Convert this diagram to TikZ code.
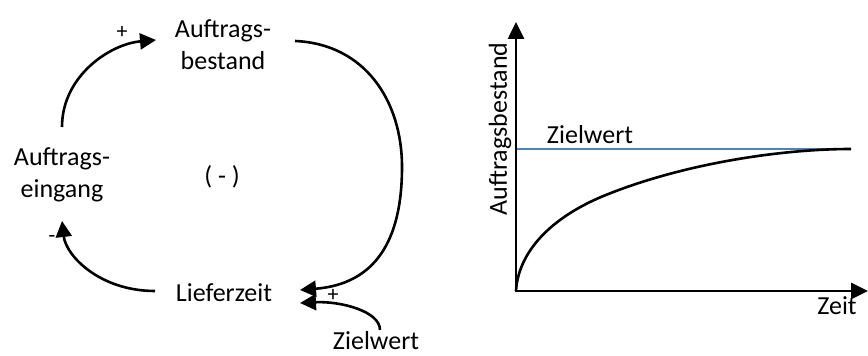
\documentclass[tikz,border=0pt]{standalone}
\usepackage{fontspec}
\setmainfont{Carlito}
\usetikzlibrary{arrows.meta}
\definecolor{zielblue}{RGB}{79,129,189}
\begin{document}
\begin{tikzpicture}[x=1pt,y=1pt,
  lbl/.style={inner sep=0pt,align=center,font=\fontsize{26}{32}\selectfont},
  sgn/.style={inner sep=0pt,font=\fontsize{22}{26}\selectfont},
  arr/.style={line width=2.6pt,-{Triangle[length=16pt,width=16pt]}},
  axis/.style={line width=2.6pt,-{Triangle[length=17pt,width=16pt]}}]
\useasboundingbox (0,0) rectangle (868,356);
% left: causal loop
\node[lbl] (best) at (223,311) {Auftrags-\\bestand};
\node[lbl] (eing) at (62,181) {Auftrags-\\eingang};
\node[lbl] (loop) at (222,179) {( - )};
\node[lbl] (lief) at (224,63) {Lieferzeit};
\node[lbl] (ziel) at (376,15) {Zielwert};
\node[sgn] (p1) at (122,324) {+};
\node[sgn] (p2) at (333,61) {+};
\node[sgn] (m1) at (52,117) {-};
\draw[arr] ([yshift=48pt]eing.center) .. controls (62,280) and (110,312) .. ([shift={(-67pt,5pt)}]best.center);
\draw[arr] ([shift={(72pt,4pt)}]best.center) .. controls (365,312) and (402,255) .. (402,189)
  .. controls (402,115) and (375,72) .. ([shift={(76pt,3pt)}]lief.center);
\draw[arr] ([shift={(-69pt,2pt)}]lief.center) .. controls (100,65) and (66,100) .. ([yshift=-46pt]eing.center);
\draw[arr] ([shift={(4pt,11pt)}]ziel.center) .. controls (380,45) and (340,55) .. ([shift={(76pt,-10pt)}]lief.center);
% right: chart
\coordinate (O) at (516,65);
\coordinate (ytip) at (516,334);
\coordinate (xtip) at (868,65);
\coordinate (zl) at (516,207);
\coordinate (zr) at (851,207);
\draw[zielblue,line width=2pt] (zl) -- (zr);
\draw[line width=2.6pt] (O) .. controls (518,100) and (545,135) .. (601,159)
  .. controls (680,192) and (780,207) .. (zr);
\draw[axis] (O) -- (ytip);
\draw[axis] ([xshift=-1.3pt]O) -- (xtip);
\node[lbl] (zw) at (590,221) {Zielwert};
\node[lbl,rotate=90] (ab) at (500,227) {Auftragsbestand};
\node[lbl] (zeit) at (837,50) {Zeit};
\end{tikzpicture}
\end{document}
